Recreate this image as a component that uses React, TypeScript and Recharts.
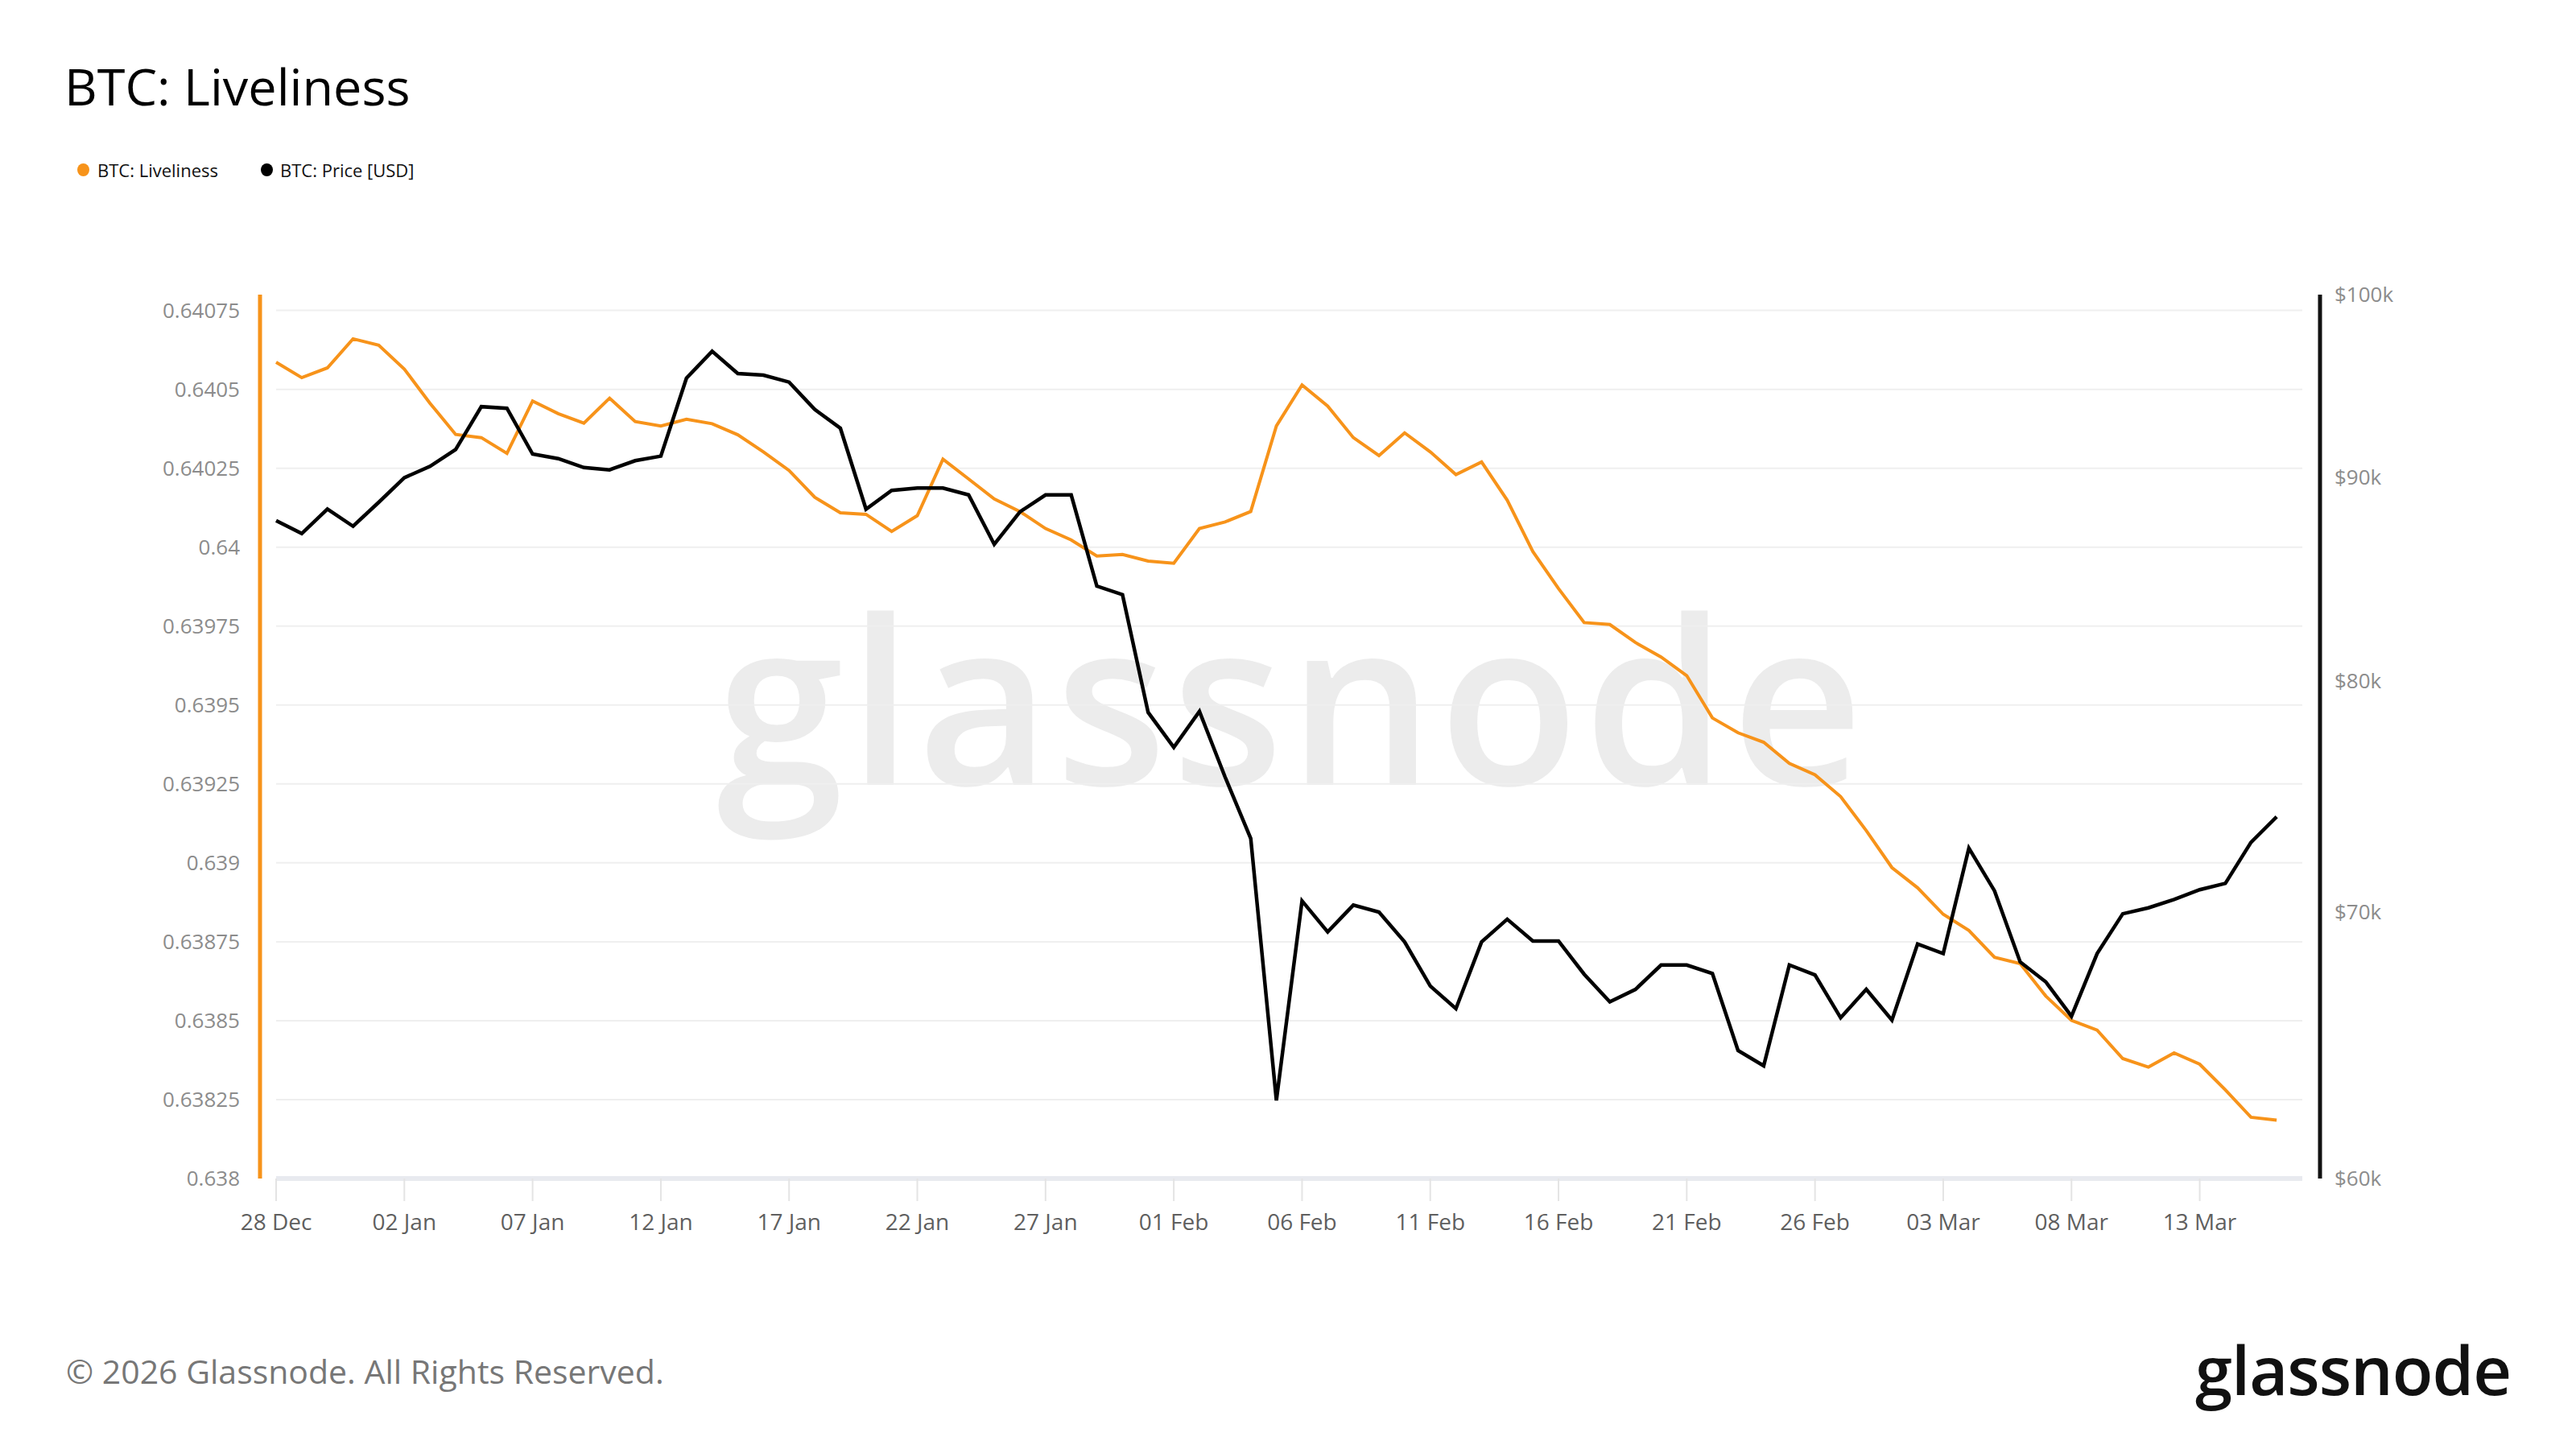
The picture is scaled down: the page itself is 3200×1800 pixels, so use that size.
import { LineChart, Line, XAxis, YAxis, ReferenceLine } from 'recharts'

const DATES = [
  '28 Dec', '29 Dec', '30 Dec', '31 Dec',
  '01 Jan', '02 Jan', '03 Jan', '04 Jan', '05 Jan', '06 Jan', '07 Jan', '08 Jan', '09 Jan', '10 Jan',
  '11 Jan', '12 Jan', '13 Jan', '14 Jan', '15 Jan', '16 Jan', '17 Jan', '18 Jan', '19 Jan', '20 Jan',
  '21 Jan', '22 Jan', '23 Jan', '24 Jan', '25 Jan', '26 Jan', '27 Jan', '28 Jan', '29 Jan', '30 Jan', '31 Jan',
  '01 Feb', '02 Feb', '03 Feb', '04 Feb', '05 Feb', '06 Feb', '07 Feb', '08 Feb', '09 Feb', '10 Feb',
  '11 Feb', '12 Feb', '13 Feb', '14 Feb', '15 Feb', '16 Feb', '17 Feb', '18 Feb', '19 Feb', '20 Feb',
  '21 Feb', '22 Feb', '23 Feb', '24 Feb', '25 Feb', '26 Feb', '27 Feb', '28 Feb',
  '01 Mar', '02 Mar', '03 Mar', '04 Mar', '05 Mar', '06 Mar', '07 Mar', '08 Mar', '09 Mar', '10 Mar',
  '11 Mar', '12 Mar', '13 Mar', '14 Mar', '15 Mar', '16 Mar',
]

const LIVELINESS = [
  0.640586, 0.640537, 0.640568, 0.64066, 0.64064, 0.640564, 0.640456, 0.640357, 0.640347, 0.640297,
  0.640463, 0.640423, 0.640393, 0.640472, 0.640398, 0.640384, 0.640405, 0.640391, 0.640356, 0.640302,
  0.640243, 0.640158, 0.640109, 0.640104, 0.64005, 0.6401, 0.640279, 0.640216, 0.640153, 0.640113,
  0.640059, 0.640023, 0.639972, 0.639977, 0.639956, 0.639949, 0.640059, 0.64008, 0.640113, 0.640384,
  0.640514, 0.640447, 0.640347, 0.64029, 0.640362, 0.640302, 0.64023, 0.64027, 0.640149, 0.639986,
  0.639869, 0.639761, 0.639755, 0.639698, 0.639652, 0.639593, 0.639459, 0.639412, 0.639382, 0.639315,
  0.639279, 0.63921, 0.639102, 0.638985, 0.638921, 0.638837, 0.638786, 0.638701, 0.638681, 0.638578,
  0.638501, 0.63847, 0.63838, 0.638353, 0.638398, 0.638362, 0.638281, 0.638194, 0.638185,
]

const PRICE = [
  87760, 87100, 88340, 87470, 88690, 89960, 90550, 91440, 93730, 93640,
  91200, 90960, 90490, 90370, 90850, 91090, 95290, 96780, 95540, 95450,
  95070, 93580, 92570, 88340, 89300, 89420, 89420, 89070, 86560, 88200,
  89070, 89070, 84500, 84080, 78550, 76980, 78600, 75670, 73030, 62770,
  70440, 69190, 70270, 69990, 68790, 67060, 66190, 68790, 69700, 68830,
  68830, 67520, 66450, 66930, 67880, 67880, 67550, 64610, 64040, 67880,
  67490, 65840, 66930, 65750, 68710, 68330, 72620, 70850, 68000, 67220,
  65900, 68330, 69920, 70160, 70500, 70900, 71160, 72870, 73950,
]

const LEFT_TICKS = [
  0.638, 0.63825, 0.6385, 0.63875, 0.639, 0.63925, 0.6395, 0.63975, 0.64, 0.64025, 0.6405, 0.64075,
]
const RIGHT_TICKS = [60000, 70000, 80000, 90000, 100000]
const X_TICKS = [0, 5, 10, 15, 20, 25, 30, 35, 40, 45, 50, 55, 60, 65, 70, 75]

const ORANGE = '#f7931a'
const FONT = '"Open Sans", "Noto Sans", sans-serif'

const data = DATES.map((date, i) => ({
  i,
  date,
  liveliness: LIVELINESS[i],
  price: PRICE[i],
}))

const lastX = DATES.length

export default function App() {
  return (
    <div
      style={{
        position: 'absolute',
        top: 0,
        left: 0,
        width: 3200,
        height: 1800,
        background: '#fff',
        fontFamily: FONT,
        overflow: 'hidden',
      }}
    >
      <div
        style={{
          position: 'absolute',
          left: 80,
          top: 75,
          fontSize: 63,
          lineHeight: 1,
          color: '#000',
        }}
      >
        BTC: Liveliness
      </div>

      <div
        style={{
          position: 'absolute',
          left: 96,
          top: 200,
          display: 'flex',
          alignItems: 'center',
          fontSize: 22,
          lineHeight: 1,
          color: '#111',
        }}
      >
        <span style={{ width: 15, height: 16, borderRadius: '50%', background: ORANGE, marginRight: 10 }} />
        <span>BTC: Liveliness</span>
        <span
          style={{ width: 15, height: 16, borderRadius: '50%', background: '#000', marginLeft: 53, marginRight: 9 }}
        />
        <span>BTC: Price [USD]</span>
      </div>

      <div
        style={{
          position: 'absolute',
          left: 890,
          top: 722,
          fontSize: 285,
          lineHeight: 1,
          fontWeight: 600,
          color: '#ececec',
          letterSpacing: 6,
        }}
      >
        glassnode
      </div>

      <div style={{ position: 'absolute', left: 0, top: 0 }}>
        <LineChart
          width={3200}
          height={1800}
          data={data}
          margin={{ top: 366, right: 168, bottom: 256, left: 173 }}
        >
          {LEFT_TICKS.map((v) => (
            <ReferenceLine
              key={v}
              yAxisId="left"
              segment={[
                { x: 0, y: v },
                { x: lastX, y: v },
              ]}
              stroke={v === LEFT_TICKS[0] ? '#e8eaef' : '#efefef'}
              strokeWidth={v === LEFT_TICKS[0] ? 6 : 2}
            />
          ))}
          <XAxis
            dataKey="i"
            type="number"
            domain={[0, lastX]}
            ticks={X_TICKS}
            tickFormatter={(v) => DATES[v]}
            padding={{ left: 20, right: 22 }}
            axisLine={false}
            tickLine={{ stroke: '#e4e4e4', strokeWidth: 2 }}
            tickSize={28}
            tickMargin={16}
            height={80}
            tick={{ fill: '#5f5f5f', fontSize: 28, fontFamily: FONT }}
          />
          <YAxis
            yAxisId="left"
            orientation="left"
            domain={[0.638, 0.6408]}
            ticks={LEFT_TICKS}
            allowDataOverflow
            tickFormatter={(v) => String(Number(v.toFixed(5)))}
            axisLine={{ stroke: ORANGE, strokeWidth: 5 }}
            tickLine={false}
            tickSize={0}
            tickMargin={25}
            width={150}
            tick={{ fill: '#8c8c8c', fontSize: 26, fontFamily: FONT }}
          />
          <YAxis
            yAxisId="right"
            orientation="right"
            scale="log"
            domain={[60000, 100000]}
            ticks={RIGHT_TICKS}
            allowDataOverflow
            tickFormatter={(v) => `$${v / 1000}k`}
            axisLine={{ stroke: '#111', strokeWidth: 5 }}
            tickLine={false}
            tickSize={0}
            tickMargin={18}
            width={150}
            tick={{ fill: '#8c8c8c', fontSize: 26, fontFamily: FONT }}
          />
          <Line
            yAxisId="left"
            type="linear"
            dataKey="liveliness"
            stroke={ORANGE}
            strokeWidth={4}
            dot={false}
            isAnimationActive={false}
          />
          <Line
            yAxisId="right"
            type="linear"
            dataKey="price"
            stroke="#000"
            strokeWidth={4.5}
            dot={false}
            isAnimationActive={false}
          />
        </LineChart>
      </div>

      <div
        style={{
          position: 'absolute',
          left: 82,
          top: 1683,
          fontSize: 41,
          lineHeight: 1,
          color: '#777',
        }}
      >
        © 2026 Glassnode. All Rights Reserved.
      </div>

      <div
        style={{
          position: 'absolute',
          left: 2727,
          top: 1659,
          fontSize: 83,
          lineHeight: 1,
          fontWeight: 600,
          color: '#111',
          letterSpacing: -1,
        }}
      >
        glassnode
      </div>
    </div>
  )
}
